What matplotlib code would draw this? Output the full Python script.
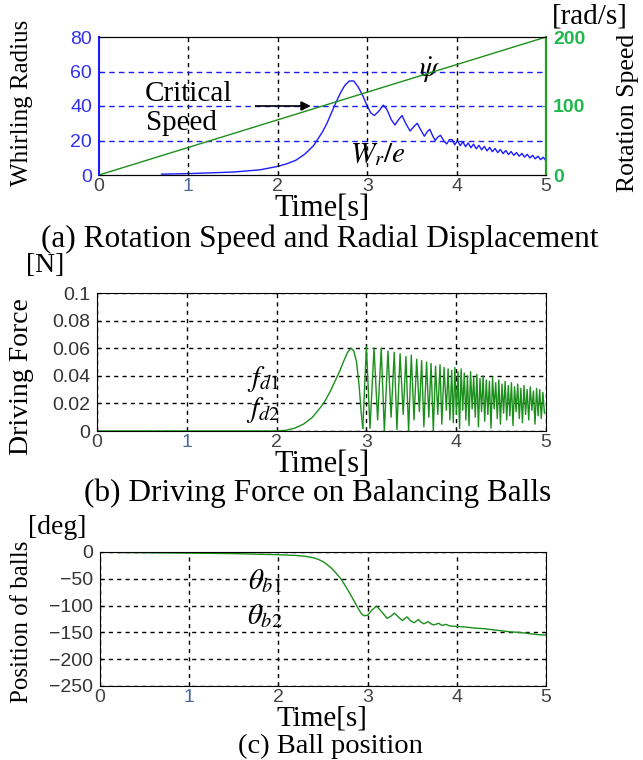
import numpy as np
import matplotlib.pyplot as plt

plt.rcParams['mathtext.fontset'] = 'stix'
plt.rcParams['font.family'] = 'Liberation Serif'

# (a) rotation speed and whirling radius
speed_t = [0.0, 5.0]
speed = [0.0, 200.0]

wr_t = [0.7, 1.0, 1.5, 1.8, 2.0, 2.1, 2.2, 2.3, 2.4, 2.5, 2.55, 2.6, 2.65, 2.7, 2.75,
        2.8, 2.85, 2.9, 2.95, 3.0, 3.04, 3.08, 3.13, 3.18, 3.22, 3.27, 3.31, 3.35, 3.39,
        3.43, 3.48, 3.52, 3.56, 3.6, 3.64, 3.67, 3.7, 3.73, 3.76, 3.79, 3.82, 3.86, 3.89,
        3.92, 3.95, 3.98,
        4.01, 4.04, 4.07, 4.10, 4.13, 4.16, 4.19, 4.22, 4.25, 4.28, 4.31, 4.34, 4.37,
        4.40, 4.43, 4.46, 4.49, 4.52, 4.55, 4.58, 4.61, 4.64, 4.67, 4.70, 4.73, 4.76,
        4.79, 4.82, 4.85, 4.88, 4.91, 4.94, 4.97, 5.00]
wr = [0.5, 0.8, 1.7, 3.0, 5.0, 6.5, 8.5, 12.0, 17.0, 25.0, 30.0, 36.0, 42.0, 47.5, 52.0,
      54.5, 54.5, 51.0, 46.0, 40.0, 36.0, 34.5, 37.0, 40.5, 38.0, 32.0, 29.0, 32.0, 34.5,
      30.0, 25.5, 28.0, 30.0, 26.0, 22.5, 25.0, 26.5, 23.0, 20.0, 22.0, 23.0, 19.5, 18.0,
      20.5, 20.5, 17.5,
      20.0, 17.0, 19.3, 16.4, 18.6, 15.8, 17.9, 15.2, 17.2, 14.6, 16.6, 14.0, 16.0,
      13.5, 15.4, 13.0, 14.8, 12.4, 14.2, 11.9, 13.6, 11.4, 13.0, 10.9, 12.5, 10.4,
      12.0, 9.9, 11.4, 9.4, 10.9, 8.9, 10.3, 8.2]

# (b) driving force: smooth rise, then peaks / troughs of the oscillation
force_rise_t = [0.0, 2.0, 2.1, 2.2, 2.3, 2.4, 2.45, 2.5, 2.55, 2.6, 2.65, 2.7, 2.75,
                2.79, 2.83, 2.86, 2.89, 2.92, 2.94, 2.96]
force_rise = [0.0, 0.0, 0.0005, 0.002, 0.005, 0.010, 0.014, 0.018, 0.023, 0.029, 0.036,
              0.043, 0.051, 0.057, 0.060, 0.058, 0.050, 0.032, 0.015, 0.002]

peak_t = [3.00, 3.085, 3.165, 3.24, 3.31, 3.375, 3.44, 3.50, 3.56, 3.615, 3.67, 3.72,
          3.77, 3.82, 3.865, 3.91,
          3.95, 3.985, 4.02, 4.055, 4.09, 4.125, 4.16, 4.195, 4.23, 4.265, 4.30, 4.335,
          4.37, 4.405, 4.44, 4.475, 4.51, 4.545, 4.58, 4.615, 4.65, 4.685, 4.72, 4.755,
          4.79, 4.825, 4.86, 4.895, 4.93, 4.965]
peak_f = [0.061, 0.060, 0.060, 0.058, 0.057, 0.056, 0.054, 0.055, 0.052, 0.051, 0.050,
          0.049, 0.047, 0.048, 0.046, 0.045,
          0.044, 0.046, 0.043, 0.045, 0.042, 0.040, 0.043, 0.039, 0.041, 0.038, 0.040,
          0.037, 0.036, 0.039, 0.035, 0.037, 0.034, 0.036, 0.033, 0.035, 0.032, 0.034,
          0.031, 0.033, 0.030, 0.032, 0.029, 0.031, 0.030, 0.028]
trough_t = [3.04, 3.125, 3.20, 3.275, 3.34, 3.41, 3.47, 3.53, 3.59, 3.64, 3.695, 3.745,
            3.795, 3.84, 3.89, 3.93,
            3.9675, 4.0025, 4.0375, 4.0725, 4.1075, 4.1425, 4.1775, 4.2125, 4.2475,
            4.2825, 4.3175, 4.3525, 4.3875, 4.4225, 4.4575, 4.4925, 4.5275, 4.5625,
            4.5975, 4.6325, 4.6675, 4.7025, 4.7375, 4.7725, 4.8075, 4.8425, 4.8775,
            4.9125, 4.9475, 4.9825]
trough_f = [0.002, 0.008, 0.000, 0.010, 0.001, 0.012, 0.000, 0.008, 0.014, 0.003, 0.010,
            0.000, 0.012, 0.005, 0.015, 0.008,
            0.006, 0.012, 0.002, 0.015, 0.008, 0.004, 0.016, 0.010, 0.003, 0.014, 0.007,
            0.012, 0.002, 0.016, 0.009, 0.005, 0.013, 0.008, 0.011, 0.004, 0.014, 0.009,
            0.006, 0.012, 0.008, 0.015, 0.005, 0.011, 0.009, 0.013]

# (c) ball position
pos_t = [0.0, 0.25, 1.0, 1.5, 2.0, 2.2, 2.3, 2.4, 2.45, 2.5, 2.55, 2.6, 2.65, 2.7, 2.75,
         2.8, 2.85, 2.9, 2.93, 2.96, 3.0, 3.05, 3.1, 3.15, 3.22, 3.26, 3.3, 3.35, 3.39,
         3.44, 3.48, 3.52, 3.57, 3.6, 3.63, 3.68, 3.71, 3.74, 3.8, 3.83, 3.88, 3.92, 4.0,
         4.1, 4.2, 4.3, 4.4, 4.5, 4.6, 4.7, 4.8, 4.9, 5.0]
pos = [0, -1, -2, -3, -5, -6.5, -8, -11, -14, -18, -24, -31, -40, -50, -63,
       -77, -92, -107, -115, -119, -118, -108, -101, -110, -124, -120, -114, -122, -128,
       -121, -128, -132, -126, -131, -134, -130, -134, -136, -133, -137, -135, -138, -139,
       -140, -142, -143, -145, -147, -149, -150, -152, -154, -155]

xticks = [0, 1, 2, 3, 4, 5]

blue = '#1c1cff'
green_line = '#1b8f1b'
green_tick = '#1fb84a'
tick_font = dict(family='Liberation Sans', size=14)

fig = plt.figure(figsize=(6.43, 7.6), dpi=100)
W, H = 643.0, 760.0


def add_box(left, right, top, bottom):
    return fig.add_axes([left / W, 1 - bottom / H, (right - left) / W, (bottom - top) / H])


def label(x, y, s, size, **kw):
    # place text by pixel position from the top-left corner
    return fig.text(x / W, 1 - y / H, s, fontsize=size, ha='center', va='center', **kw)


def style_xaxis(ax, bottom, gap=34, size=22):
    ax.set_xlim(0, 5)
    ax.set_xticks(xticks)
    ax.set_xticklabels([str(v) for v in xticks], **tick_font)
    for lab in ax.get_xticklabels():
        lab.set_color('#4a6c9a' if lab.get_text() == '1' else '#444444')
    ax.tick_params(axis='x', direction='in', length=3, pad=2)
    ax.tick_params(axis='y', direction='in', length=3, pad=5)
    label(322, bottom + gap, 'Time[s]', size)


# ---- (a)
ax1 = add_box(99, 546, 37, 175)
ax1.plot(wr_t, wr, color=blue, lw=1.0)
ax1.set_ylim(0, 80)
ax1.set_yticks([0, 20, 40, 60, 80])
ax1.set_yticklabels(['0', '20', '40', '60', '80'], color='#3030ee', **tick_font)
style_xaxis(ax1, 175)
for v in [1, 2, 3, 4]:
    ax1.axvline(v, color='k', ls=(0, (3, 3)), lw=1)
for v in [20, 40, 60]:
    ax1.axhline(v, color=blue, ls=(0, (4, 3)), lw=1)
ax1.spines['left'].set_color(blue)
ax1.spines['left'].set_linewidth(1.5)
ax1.spines['right'].set_visible(False)
label(22, 103, 'Whirling Radius', 18, rotation=90)

ax2 = ax1.twinx()
ax2.plot(speed_t, speed, color=green_line, lw=1.0)
ax2.set_ylim(0, 200)
ax2.set_yticks([0, 100, 200])
ax2.set_yticklabels(['0', '100', '200'], color=green_tick, fontweight='bold', **tick_font)
ax2.tick_params(axis='y', direction='in', length=3, pad=5, colors=green_tick)
ax2.spines['right'].set_color('#22a022')
ax2.spines['right'].set_linewidth(1.6)
ax2.spines['left'].set_visible(False)
label(628, 113, 'Rotation Speed', 18.5, rotation=90)

ax1.text(1.0, 47, 'Critical', fontsize=21, ha='center', va='center')
ax1.text(0.92, 30, 'Speed', fontsize=21, ha='center', va='center')
ax1.annotate('', xy=(2.4, 40), xytext=(1.72, 40),
             arrowprops=dict(arrowstyle='-|>', color='k', lw=1.2, mutation_scale=14))
ax1.text(3.7, 61, r'$\dot{\psi}$', fontsize=21, ha='center', va='center')
ax1.text(3.12, 12, r'$W_r/e$', fontsize=21, ha='center', va='center')
label(590, 16, '[rad/s]', 21)
label(320, 239, '(a) Rotation Speed and Radial Displacement', 22.5)

# ---- (b)
ax3 = add_box(97, 546, 293, 431)
ax3.plot(force_rise_t, force_rise, color=green_line, lw=1.0)
osc_t, osc_f = [force_rise_t[-1]], [force_rise[-1]]
for tp, fp, tt, ft in zip(peak_t, peak_f, trough_t, trough_f):
    osc_t += [tp, tt]
    osc_f += [fp, ft]
ax3.plot(osc_t, osc_f, color=green_line, lw=1.0)
ax3.set_ylim(0, 0.1)
ax3.set_yticks([0, 0.02, 0.04, 0.06, 0.08, 0.1])
ax3.set_yticklabels(['0', '0.02', '0.04', '0.06', '0.08', '0.1'], color='#333333', **tick_font)
style_xaxis(ax3, 431)
ax3.grid(True, color='k', ls=(0, (3, 3)), lw=1)
label(22, 377, 'Driving Force', 20, rotation=90)
ax3.text(1.85, 0.038, r'$f_{d1}$', fontsize=21, ha='center', va='center')
ax3.text(1.85, 0.015, r'$f_{d2}$', fontsize=21, ha='center', va='center')
label(45, 266, '[N]', 20)
label(318, 493, '(b) Driving Force on Balancing Balls', 22.5)

# ---- (c)
ax4 = add_box(100, 546, 552, 686)
ax4.plot(pos_t, pos, color=green_line, lw=1.0)
ax4.set_ylim(-250, 0)
ax4.set_yticks([-250, -200, -150, -100, -50, 0])
ax4.set_yticklabels(['\u2212250', '\u2212200', '\u2212150', '\u2212100', '\u221250', '0'],
                    color='#333333', **tick_font)
style_xaxis(ax4, 686, gap=33, size=21)
ax4.grid(True, color='k', ls=(0, (3, 3)), lw=1)
label(22, 622, 'Position of balls', 18, rotation=90)
ax4.text(1.85, -55, r'$\theta_{b1}$', fontsize=21, ha='center', va='center')
ax4.text(1.85, -120, r'$\theta_{b2}$', fontsize=21, ha='center', va='center')
label(57, 528, '[deg]', 20)
label(330, 746, '(c) Ball position', 20.5)

fig.savefig('out.png', dpi=100)
